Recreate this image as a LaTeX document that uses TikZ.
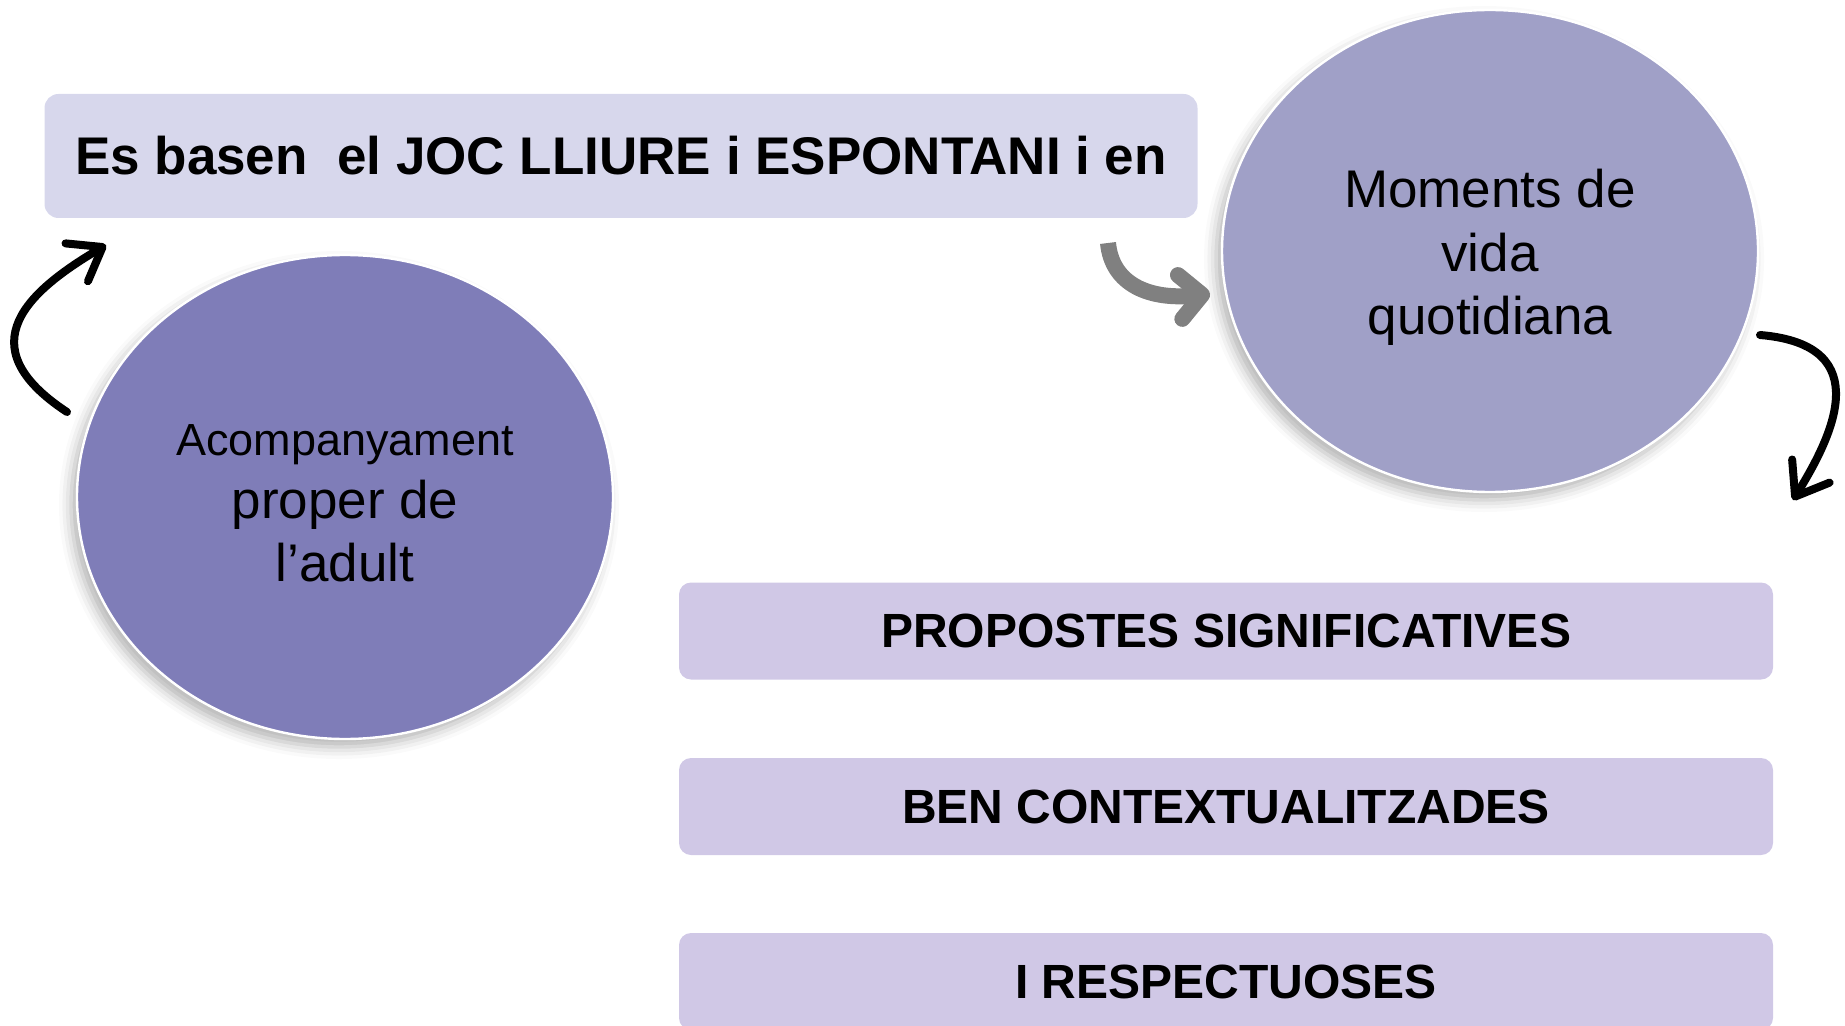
\documentclass[tikz,border=0pt]{standalone}
\usepackage{fontspec}
\setmainfont{Liberation Sans}
\usepackage{xcolor}
\definecolor{lilac-100}{RGB}{215,215,236}
\definecolor{lilac-200}{RGB}{208,200,230}
\definecolor{violet-300}{RGB}{160,160,199}
\definecolor{violet-500}{RGB}{127,125,184}
\definecolor{gray-500}{RGB}{128,128,128}
\usepackage{tikz}
\usetikzlibrary{shadows.blur,arrows.meta,shapes.geometric}

\begin{document}
\begin{tikzpicture}[
    x=0.5pt, y=-0.5pt,
    title box/.style={rounded corners=7pt, fill=lilac-100, minimum width=576.5pt, minimum height=62pt, inner sep=0pt, font=\fontsize{26.5}{31}\selectfont\bfseries},
    label box/.style={rounded corners=6pt, fill=lilac-200, minimum width=547pt, minimum height=48.5pt, inner sep=0pt, font=\fontsize{24}{28}\selectfont\bfseries},
    oval/.style={ellipse, fill=#1, draw=white, line width=1.2pt, minimum width=268pt, minimum height=241pt, inner sep=0pt, align=center,
        blur shadow={shadow xshift=-3pt, shadow yshift=-4pt, shadow blur radius=6pt, shadow opacity=30}},
    hand arrow/.style={line width=4pt, line cap=round, -{Straight Barb[length=15pt, width=22pt, line cap=round, line join=round]}},
    gray arrow/.style={line width=8pt, gray-500, -{Straight Barb[length=11pt, width=22pt, line cap=round, line join=round]}}
]
\path[use as bounding box, clip] (0,0) rectangle (1845,1026);

% Title bar
\node[title box] (title) at (621,156) {Es basen\ \ el JOC LLIURE i ESPONTANI i en};

% Ovals
\node[oval=violet-300, font=\fontsize{26.5}{31.75}\selectfont] (daily) at (1490,251) {\rule{0pt}{25.5pt}Moments de\\vida\\quotidiana};
\node[oval=violet-500, minimum height=242pt, font=\fontsize{26.5}{31.5}\selectfont] (adult) at (345,497) {\rule{0pt}{22pt}{\fontsize{22.5}{31.5}\selectfont Acompanyament}\\proper de\\l’adult};

% Bottom bars
\node[label box] (bar1) at (1226,631) {PROPOSTES SIGNIFICATIVES};
\node[label box] (bar2) at (1226,806.5) {BEN CONTEXTUALITZADES};
\node[label box] (bar3) at (1226,981.5) {I RESPECTUOSES};

% Arrows
\coordinate (la start) at (67,412);
\coordinate (la end) at (106,245);
\draw[hand arrow] (la start) .. controls (-35,345) and (30,290) .. (la end);

\coordinate (ga start) at (1108,243);
\coordinate (ga end) at (1210,294);
\draw[gray arrow] (ga start) .. controls (1112,285) and (1150,300) .. (ga end);

\coordinate (ra start) at (1760,335);
\coordinate (ra end) at (1793,500);
\draw[hand arrow] (ra start) .. controls (1880,345) and (1830,440) .. (ra end);

\end{tikzpicture}
\end{document}
